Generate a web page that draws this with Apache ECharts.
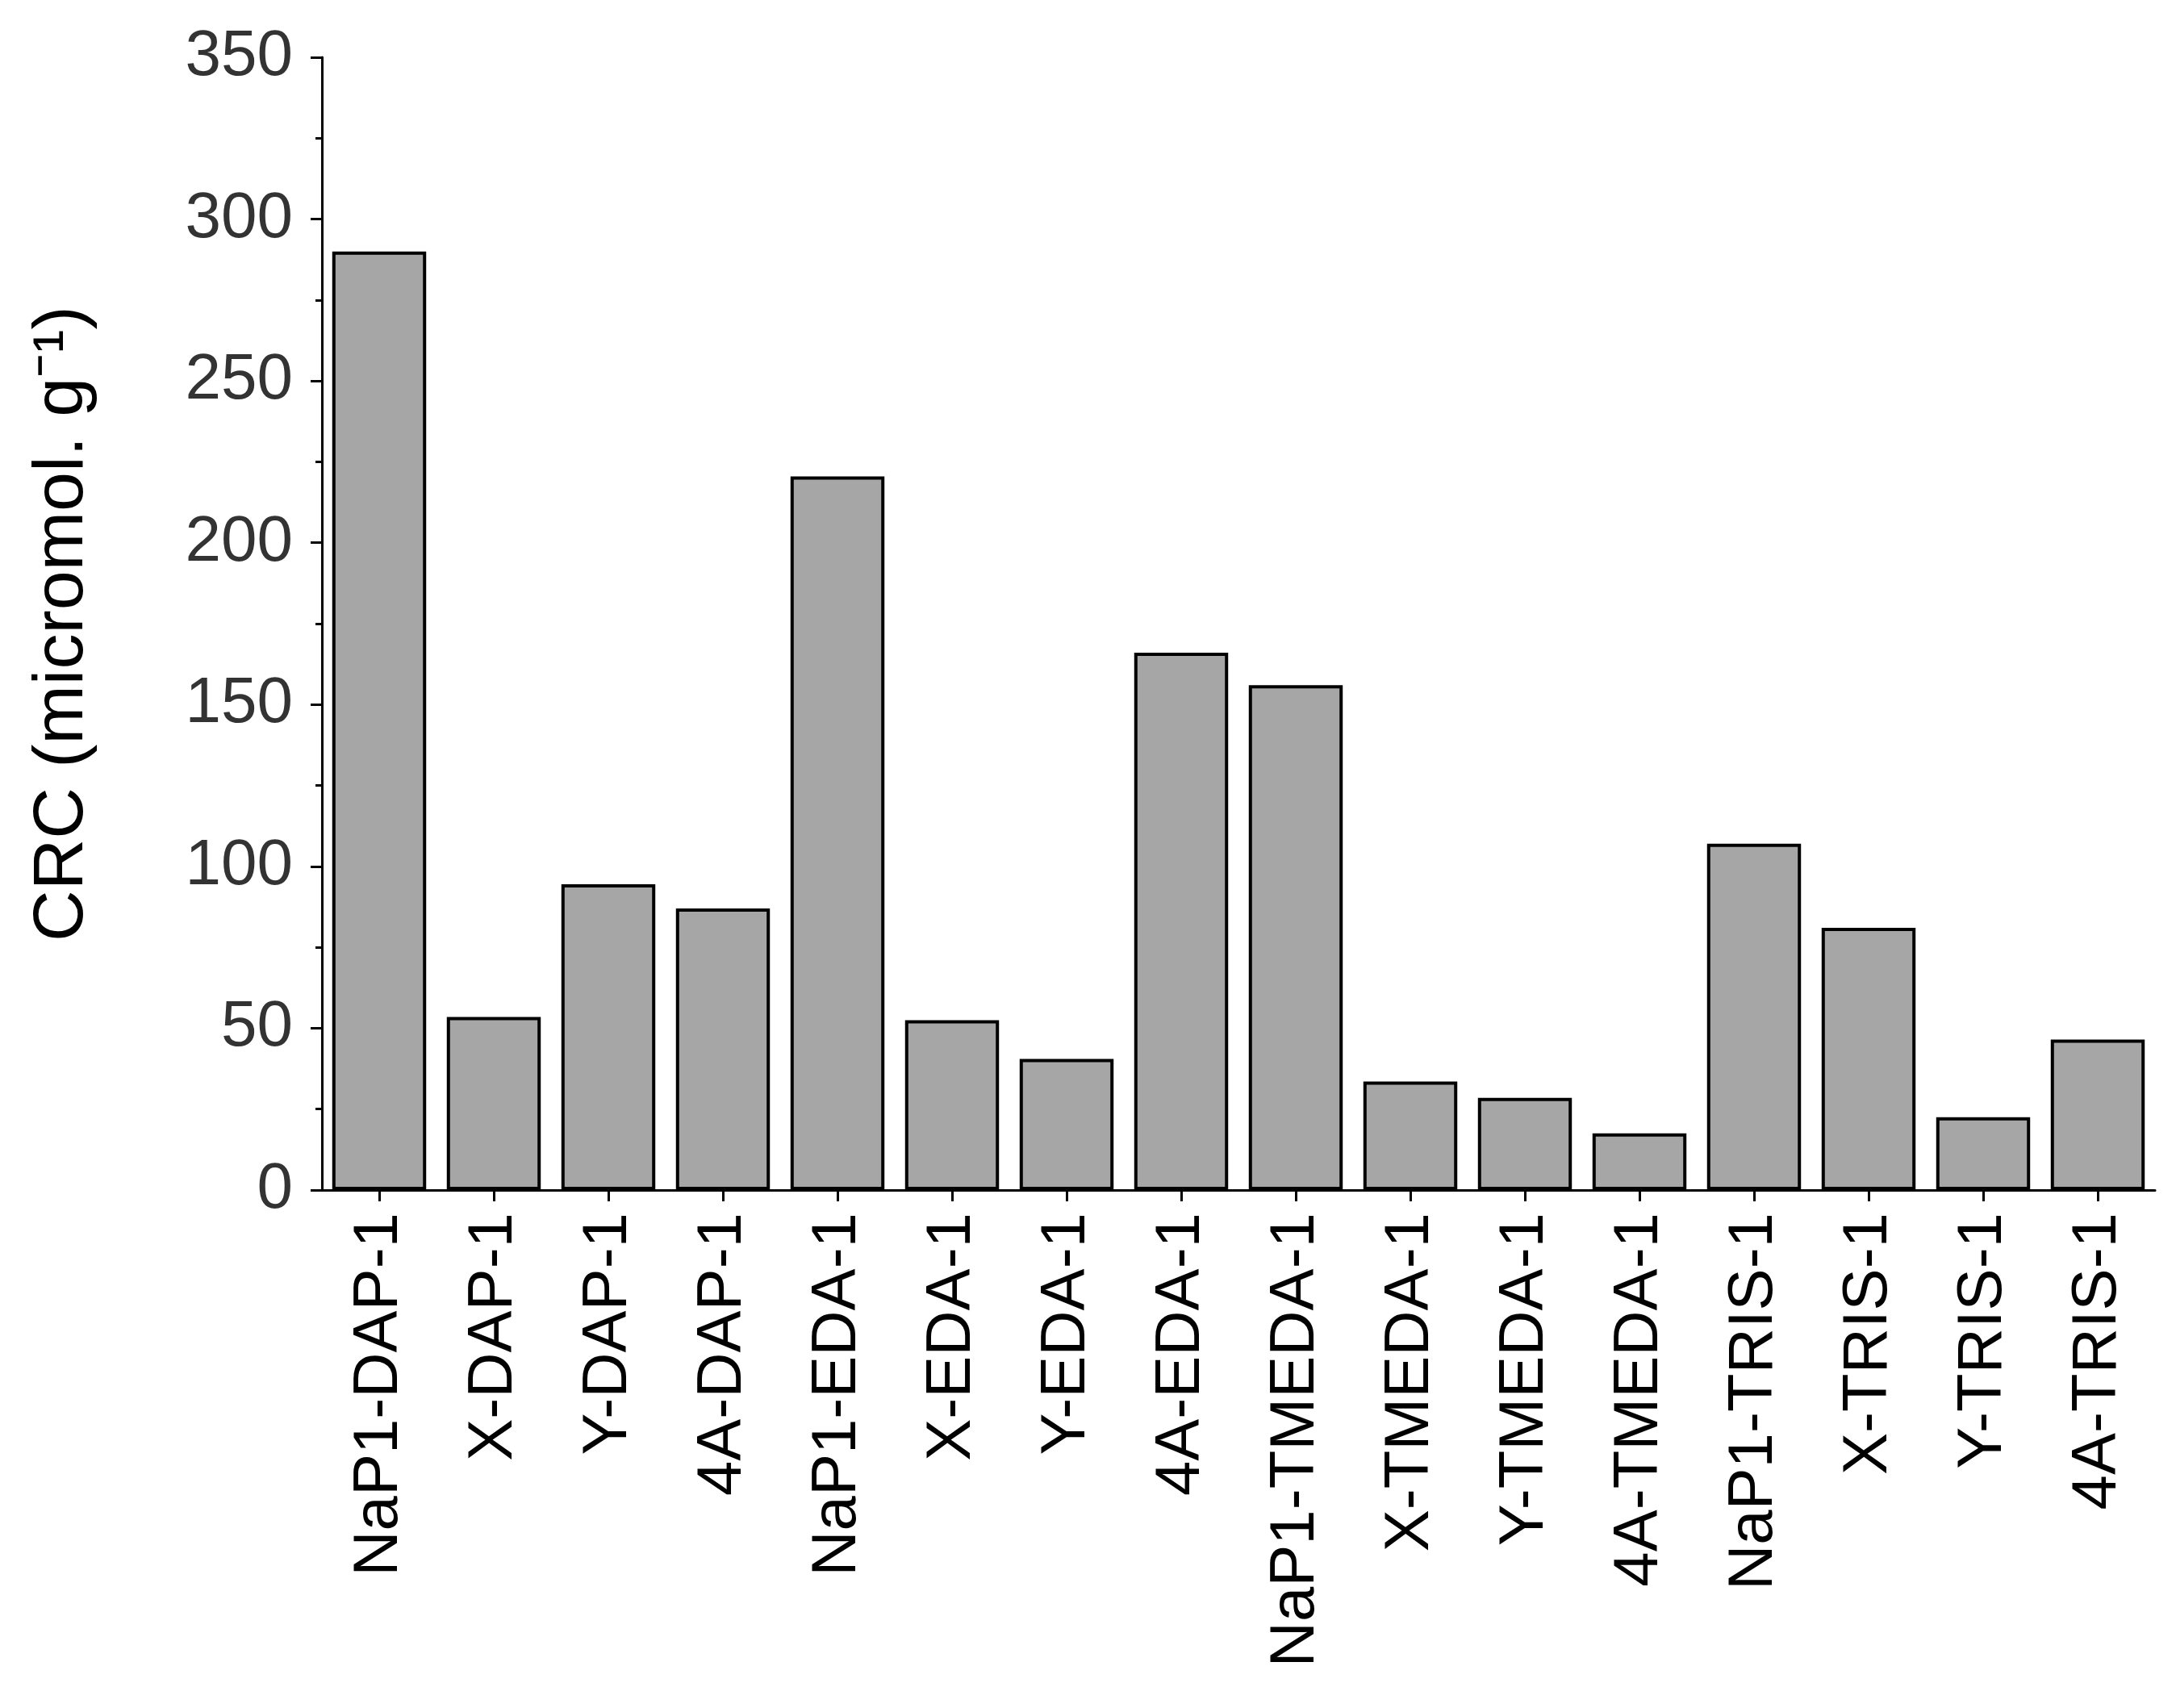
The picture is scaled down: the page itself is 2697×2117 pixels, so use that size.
<!DOCTYPE html>
<html><head><meta charset="utf-8">
<script src="https://cdn.jsdelivr.net/npm/echarts@6/dist/echarts.min.js"></script>
<style>html,body{margin:0;background:#fff}#c{width:2697px;height:2117px}</style>
</head><body><div id="c"></div>
<script>
const categories = ["NaP1-DAP-1","X-DAP-1","Y-DAP-1","4A-DAP-1","NaP1-EDA-1","X-EDA-1","Y-EDA-1","4A-EDA-1","NaP1-TMEDA-1","X-TMEDA-1","Y-TMEDA-1","4A-TMEDA-1","NaP1-TRIS-1","X-TRIS-1","Y-TRIS-1","4A-TRIS-1"];
const crcValues = [290,53.5,94.5,87,220.5,52.5,40.5,166,156,33.5,28.5,17.5,107,81,22.5,46.5];
const yTicks = [0,50,100,150,200,250,300,350];
const chart = echarts.init(document.getElementById('c'));
const font = 'Liberation Sans, Arial, sans-serif';
chart.setOption({
  animation:false,
  grid:{left:399,right:26,top:71,bottom:642,containLabel:false},
  xAxis:{type:'category',data:categories,
    axisLine:{lineStyle:{color:'#000',width:3}},
    axisTick:{show:true,length:14,lineStyle:{color:'#000',width:3},alignWithLabel:true},
    axisLabel:{rotate:90,fontSize:78,color:'#000',fontFamily:font,margin:28,interval:0}},
  yAxis:{type:'value',min:0,max:350,interval:50,
    name:'CRC (micromol. g⁻¹)',nameLocation:'middle',nameGap:277,
    nameTextStyle:{fontSize:88,color:'#000',fontFamily:font},
    axisLine:{show:true,lineStyle:{color:'#000',width:3}},
    axisTick:{show:true,length:14,lineStyle:{color:'#000',width:3}},
    minorTick:{show:true,splitNumber:2,length:8,lineStyle:{color:'#000',width:3}},
    splitLine:{show:false},
    axisLabel:{fontSize:80,color:'#333',fontFamily:font,margin:36,
      formatter:v=>yTicks.includes(v)?String(v):''}},
  series:[{type:'bar',data:crcValues,barCategoryGap:'18%',
    itemStyle:{color:'#a6a6a6',borderColor:'#000',borderWidth:4}}]
});
</script></body></html>
